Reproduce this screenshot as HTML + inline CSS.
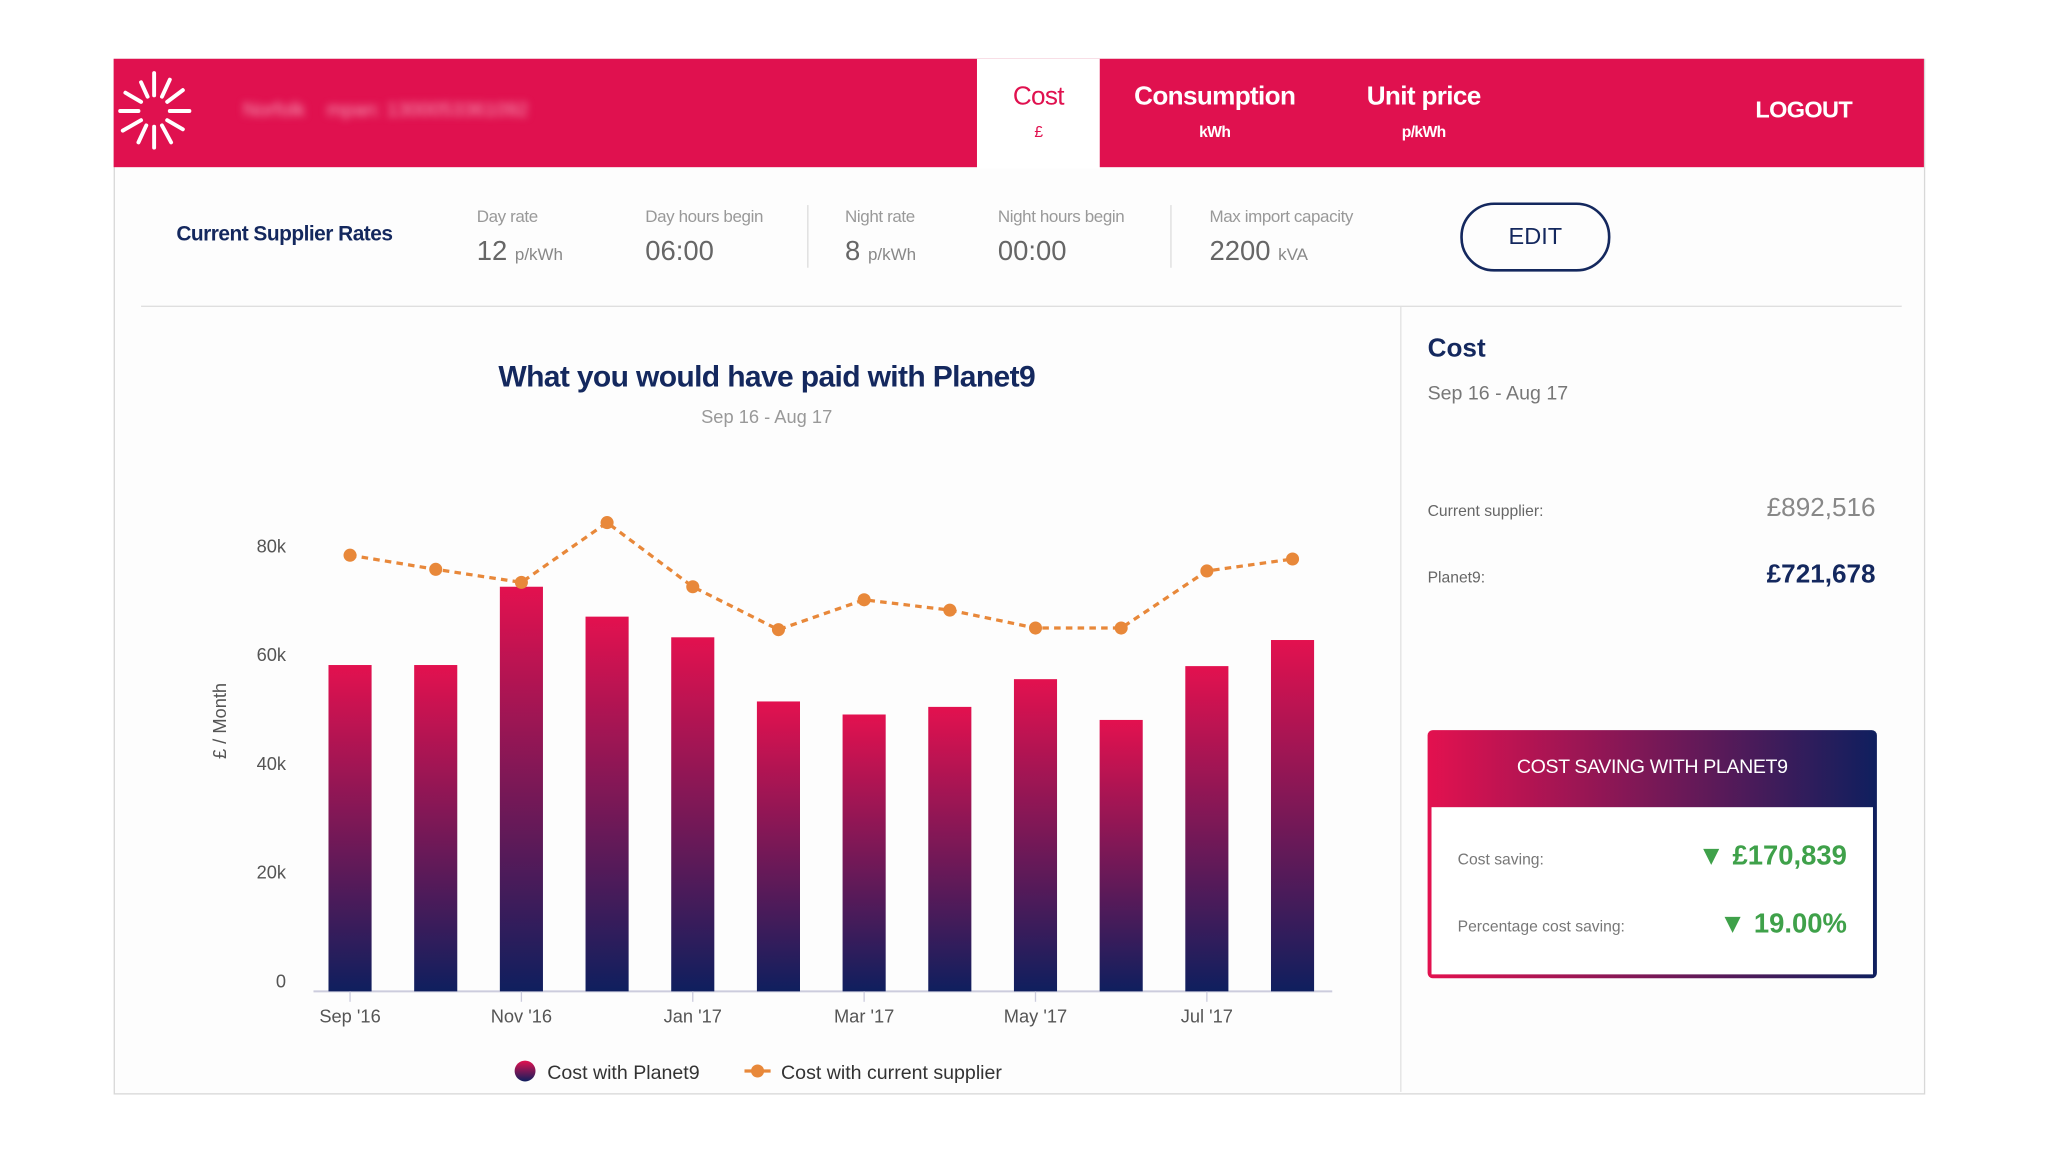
<!DOCTYPE html>
<html><head><meta charset="utf-8">
<style>
html,body{margin:0;padding:0;background:#fff;width:2048px;height:1152px;overflow:hidden}
#root{position:absolute;left:0;top:0;width:1568px;height:882px;transform:scale(1.306122);transform-origin:0 0;font-family:"Liberation Sans",sans-serif}
.abs{position:absolute}
.card{left:87px;top:45px;width:1385px;height:791px;border:1px solid #d8d8d8;background:#fdfdfd}
.hdr{left:87px;top:45px;width:1386px;height:83px;background:#e0114f}
.tab{color:#fff;text-align:center;font-size:20px;letter-spacing:-0.5px}
.tab small{display:block;font-size:12px;margin-top:8px}
.lbl{color:#999;font-size:13px;letter-spacing:-0.3px}
.val{color:#666;font-size:21px}
.val span{font-size:13px;color:#888}
.div{width:1px;background:#ddd}
</style></head><body>
<div id="root">
<div class="abs card"></div>
<div class="abs hdr"></div>
<svg class="abs" style="left:88px;top:54px" width="60" height="62" viewBox="-30 -31 60 62">
<g stroke="#fff" stroke-width="3" stroke-linecap="round">
<line x1="0" y1="-12" x2="0" y2="-29"/><line x1="6" y1="-11" x2="12" y2="-24"/><line x1="10" y1="-7" x2="22" y2="-16"/><line x1="12" y1="0" x2="27" y2="0"/><line x1="10" y1="7" x2="22" y2="14"/><line x1="6" y1="11" x2="13" y2="24"/><line x1="0" y1="12" x2="0" y2="28"/><line x1="-6" y1="11" x2="-12" y2="24"/><line x1="-10" y1="7" x2="-24" y2="15"/><line x1="-12" y1="0" x2="-26" y2="0"/><line x1="-10" y1="-7" x2="-22" y2="-14"/><line x1="-5" y1="-11" x2="-10" y2="-22"/>
</g></svg>
<div class="abs" style="left:186px;top:76px;color:#f5a0b8;font-size:15px;filter:blur(3px)">Norfolk &nbsp;&nbsp; mpan: 1300053361092</div>
<div class="abs" style="left:748px;top:45px;width:94px;height:84px;background:#fff"></div>
<div class="abs tab" style="left:748px;top:63px;width:94px;color:#e0114f">Cost<small>£</small></div>
<div class="abs tab" style="left:860px;top:63px;width:140px;font-weight:bold">Consumption<small>kWh</small></div>
<div class="abs tab" style="left:1030px;top:63px;width:120px;font-weight:bold">Unit price<small>p/kWh</small></div>
<div class="abs tab" style="left:1330px;top:74px;width:102px;font-size:18px;font-weight:bold">LOGOUT</div>

<div class="abs" style="left:135px;top:171px;color:#14285e;font-size:16px;font-weight:bold;letter-spacing:-0.4px">Current Supplier Rates</div>
<div class="abs lbl" style="left:365px;top:158px">Day rate</div>
<div class="abs val" style="left:365px;top:181px">12 <span>p/kWh</span></div>
<div class="abs lbl" style="left:494px;top:158px">Day hours begin</div>
<div class="abs val" style="left:494px;top:181px">06:00</div>
<div class="abs div" style="left:618px;top:157px;height:48px"></div>
<div class="abs lbl" style="left:647px;top:158px">Night rate</div>
<div class="abs val" style="left:647px;top:181px">8 <span>p/kWh</span></div>
<div class="abs lbl" style="left:764px;top:158px">Night hours begin</div>
<div class="abs val" style="left:764px;top:181px">00:00</div>
<div class="abs div" style="left:896px;top:157px;height:48px"></div>
<div class="abs lbl" style="left:926px;top:158px">Max import capacity</div>
<div class="abs val" style="left:926px;top:181px">2200 <span>kVA</span></div>
<div class="abs" style="left:1118px;top:155px;width:111px;height:49px;border:2.5px solid #14285e;border-radius:26px;color:#14285e;font-size:18px;text-align:center;line-height:49px">EDIT</div>

<div class="abs" style="left:108px;top:234px;width:1348px;height:1px;background:#ddd"></div>
<div class="abs" style="left:1072px;top:235px;width:1px;height:601px;background:#e2e2e2"></div>

<div class="abs" style="left:300px;top:275px;width:574px;text-align:center;color:#14285e;font-size:23px;font-weight:bold;letter-spacing:-0.5px">What you would have paid with Planet9</div>
<div class="abs" style="left:300px;top:311px;width:574px;text-align:center;color:#999;font-size:14px">Sep 16 - Aug 17</div>

<svg id="chart" class="abs" style="left:0;top:0" width="1072" height="882">
<defs><linearGradient id="bg" x1="0" y1="0" x2="0" y2="1"><stop offset="0" stop-color="#e3114f"/><stop offset="1" stop-color="#0f1f5e"/></linearGradient></defs>
</svg>

<div class="abs" style="left:1093px;top:256px;color:#14285e;font-size:20px;font-weight:bold">Cost</div>
<div class="abs" style="left:1093px;top:293px;color:#777;font-size:15px">Sep 16 - Aug 17</div>
<div class="abs" style="left:1093px;top:384px;color:#666;font-size:12px">Current supplier:</div>
<div class="abs" style="left:1300px;top:378px;width:136px;text-align:right;color:#888;font-size:20px">£892,516</div>
<div class="abs" style="left:1093px;top:435px;color:#666;font-size:12px">Planet9:</div>
<div class="abs" style="left:1300px;top:429px;width:136px;text-align:right;color:#14285e;font-size:20px;font-weight:bold">£721,678</div>

<div class="abs" style="left:1093px;top:559px;width:344px;height:190px;border-radius:4px;background:linear-gradient(90deg,#e3114f,#0f1f5e)"></div>
<div class="abs" style="left:1096px;top:618px;width:338px;height:128px;background:#fff"></div>
<div class="abs" style="left:1093px;top:579px;width:344px;text-align:center;color:#fff;font-size:15px;letter-spacing:-0.3px">COST SAVING WITH PLANET9</div>
<div class="abs" style="left:1116px;top:651px;color:#777;font-size:12px">Cost saving:</div>
<div class="abs" style="left:1250px;top:644px;width:164px;text-align:right;color:#3fa14a;font-size:21px;font-weight:bold">▼ £170,839</div>
<div class="abs" style="left:1116px;top:702px;color:#777;font-size:12px">Percentage cost saving:</div>
<div class="abs" style="left:1250px;top:696px;width:164px;text-align:right;color:#3fa14a;font-size:21px;font-weight:bold">▼ 19.00%</div>
</div>
<script>
const categories=["Sep '16","Oct '16","Nov '16","Dec '16","Jan '17","Feb '17","Mar '17","Apr '17","May '17","Jun '17","Jul '17","Aug '17"];
const planet9Values=[58.1,58.1,72.5,67.0,63.2,51.4,49.0,50.4,55.5,48.0,57.9,62.7];
const supplierValues=[78.3,75.7,73.3,84.3,72.5,64.6,70.1,68.2,64.9,64.9,75.4,77.6];
const yTicks=[0,20,40,60,80];
const yTickLabels=["0","20k","40k","60k","80k"];
const NS="http://www.w3.org/2000/svg";
const svg=document.getElementById('chart');
const x0=235,step=65.6,y0=751,yPerK=333/80;
const xs=i=>x0+33+i*step;
const ys=v=>y0-v*yPerK;
function mk(t,a){const e=document.createElementNS(NS,t);for(const k in a)e.setAttribute(k,a[k]);svg.appendChild(e);return e;}
yTicks.forEach((t,i)=>{const e=mk('text',{x:219,y:ys(t)+5,'text-anchor':'end','font-size':14,fill:'#555','font-family':'Liberation Sans'});e.textContent=yTickLabels[i];

});
const yt=mk('text',{transform:'translate(173,552) rotate(-90)','text-anchor':'middle','font-size':14,fill:'#555','font-family':'Liberation Sans'});yt.textContent='£ / Month';


const ax=mk('line',{x1:240,x2:1020,y1:y0+8,y2:y0+8,stroke:'#ccd', 'stroke-width':1.5});


planet9Values.forEach((v,i)=>{const b=mk('rect',{x:xs(i)-16.5,y:ys(v),width:33,height:y0+8-ys(v),fill:'url(#bg)'});

});
categories.forEach((c,i)=>{if(i%2)return;mk('line',{x1:xs(i),x2:xs(i),y1:y0+8,y2:y0+16,stroke:'#ccd'});const e=mk('text',{x:xs(i),y:y0+32,'text-anchor':'middle','font-size':14,fill:'#555','font-family':'Liberation Sans'});e.textContent=c;

});
const pl=mk('polyline',{points:supplierValues.map((v,i)=>xs(i)+','+ys(v)).join(' '),fill:'none',stroke:'#e8883a','stroke-width':2.5,'stroke-dasharray':'5,4'});


supplierValues.forEach((v,i)=>{const c=mk('circle',{cx:xs(i),cy:ys(v),r:5,fill:'#e8883a'});

});
const l1=mk('circle',{cx:402,cy:820,r:8,fill:'url(#bg)'});


const t1=mk('text',{x:419,y:826,'font-size':15,fill:'#333','font-family':'Liberation Sans'});t1.textContent='Cost with Planet9';


mk('line',{x1:570,x2:590,y1:820,y2:820,stroke:'#e8883a','stroke-width':2.5});
const l2=mk('circle',{cx:580,cy:820,r:5,fill:'#e8883a'});


const t2=mk('text',{x:598,y:826,'font-size':15,fill:'#333','font-family':'Liberation Sans'});t2.textContent='Cost with current supplier';


</script>
</body></html>
